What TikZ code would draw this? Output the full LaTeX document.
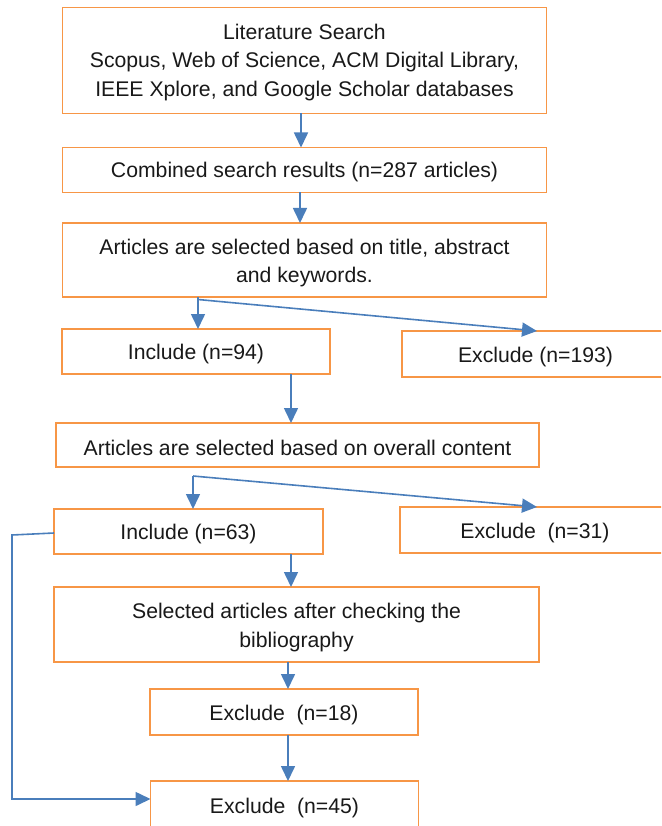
\documentclass[tikz,border=0pt]{standalone}
\usepackage{fontspec}
\setmainfont{Liberation Sans}
\usetikzlibrary{arrows.meta}
\definecolor{boxorange}{RGB}{247,150,70}
\definecolor{arrowblue}{RGB}{74,126,187}
\begin{document}
\begin{tikzpicture}[x=1pt,y=-1pt,
  box/.style={draw=boxorange, line width=1.6pt, fill=white, inner sep=0pt, outer sep=0pt},
  txt/.style={inner sep=0pt, align=center, font=\fontsize{21.2}{28.7}\selectfont, text=black!90},
  arr/.style={draw=arrowblue, line width=1.6pt, -{Triangle[length=15pt,width=14pt]}},
  ln/.style={draw=arrowblue, line width=1.6pt}]
\useasboundingbox (0,0) rectangle (661,826);
\clip (0,0) rectangle (661,826);
\node[box, minimum width=484pt, minimum height=106pt] (b1) at (304.5,60.5) {};
\node[box, minimum width=484pt, minimum height=45pt] (b2) at (304.5,170) {};
\node[box, minimum width=484pt, minimum height=74pt] (b3) at (304.5,260) {};
\node[box, minimum width=268pt, minimum height=45pt] (b4) at (196,351.5) {};
\node[box, minimum width=270pt, minimum height=46pt] (x1) at (537,354) {};
\node[box, minimum width=483pt, minimum height=44pt] (b5) at (297.5,445) {};
\node[box, minimum width=269pt, minimum height=45pt] (b6) at (188.5,531.5) {};
\node[box, minimum width=270pt, minimum height=46pt] (x2) at (535,530) {};
\node[box, minimum width=485pt, minimum height=75pt] (b7) at (296.5,624.5) {};
\node[box, minimum width=268pt, minimum height=46pt] (b8) at (284,712) {};
\node[box, minimum width=268pt, minimum height=48pt] (b9) at (284.5,805) {};
\node[txt] (t1) at ([yshift=-2pt]b1.center)
  {Literature Search\\Scopus, Web of Science, ACM Digital Library,\\IEEE Xplore, and Google Scholar databases};
\node[txt] (t2) at ([yshift=-2.5pt]b2.center) {Combined search results (n=287 articles)};
\node[txt] (t3) at ([yshift=-3pt]b3.center) {Articles are selected based on title, abstract\\and keywords.};
\node[txt] (t4) at ([yshift=-3pt]b4.center) {Include (n=94)};
\node[txt] (tx1) at ([xshift=-1.5pt,yshift=-3pt]x1.center) {Exclude (n=193)};
\node[txt] (t5) at ([yshift=-3pt]b5.center) {Articles are selected based on overall content};
\node[txt] (t6) at ([yshift=-3pt]b6.center) {Include (n=63)};
\node[txt] (tx2) at ([yshift=-3pt]x2.center) {Exclude\ \ (n=31)};
\node[txt] (t7) at ([yshift=-3pt]b7.center) {Selected articles after checking the\\bibliography};
\node[txt] (t8) at ([yshift=-3pt]b8.center) {Exclude\ \ (n=18)};
\node[txt] (t9) at ([yshift=-3pt]b9.center) {Exclude\ \ (n=45)};
\coordinate (j1) at (198,299.5);
\coordinate (j2) at (193,476);
\coordinate (l1) at (12,535);
\draw[arr] (b1.south -| 301,0) -- (b2.north -| 301,0);
\draw[arr] (b2.south -| 300,0) -- (b3.north -| 300,0);
\draw[ln] (b3.south -| j1) -- (j1);
\draw[arr] (j1) -- (b4.north -| j1);
\draw[arr] (j1) -- (x1.north -| 537,0);
\draw[arr] (b4.south -| 291,0) -- (b5.north -| 291,0);
\draw[arr] (j2) -- (b6.north -| j2);
\draw[arr] (j2) -- (x2.north -| 537,0);
\draw[arr] (b6.south -| 291,0) -- (b7.north -| 291,0);
\draw[arr] (b7.south -| 288,0) -- (b8.north -| 288,0);
\draw[arr] (b8.south -| 288,0) -- (b9.north -| 288,0);
\draw[arr] (b6.west |- 0,533) -- (l1) -- (12,799) -- (b9.west |- 0,799);
\end{tikzpicture}
\end{document}
